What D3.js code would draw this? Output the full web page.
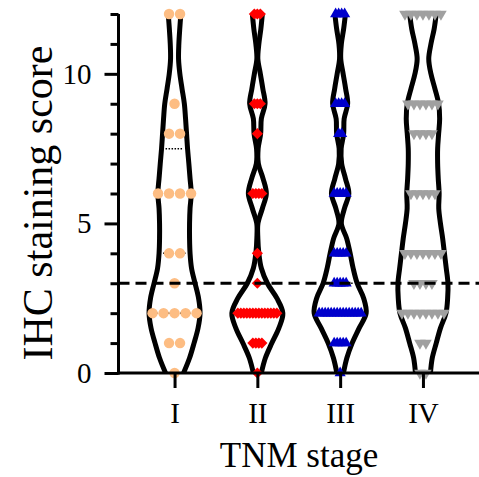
<!DOCTYPE html>
<html><head><meta charset="utf-8">
<script src="https://cdn.jsdelivr.net/npm/d3@7"></script>
<style>html,body{margin:0;padding:0;background:#fff;} svg{display:block;}</style>
</head><body>
<svg id="chart" width="479" height="477"></svg>
<script>
// ---- data ----
const categories = ["I", "II", "III", "IV"];
const scoreLevels = [0, 1, 2, 3, 4, 6, 8, 9, 12];
const countsI   = [1, 2, 5, 1, 2, 4, 2, 1, 2];
const countsII  = [1, 4, 14, 1, 1, 4, 1, 3, 3];
const countsIII = [1, 5, 15, 5, 5, 5, 2, 4, 4];
const countsIV  = [2, 2, 8, 4, 7, 5, 4, 6, 7];
const yMajorTicks = [0, 5, 10];
const yMinorTicks = [1, 2, 3, 4, 6, 7, 8, 9, 11, 12];
const cutoffScore = 3;
// violin density profile at these scores
const profileScores = [0,0.5,1,1.5,2,2.5,3,3.5,4,4.5,5,5.5,6,6.5,7,7.5,8,8.5,9,9.5,10,10.5,11,11.5,12];
const densityI   = [9,15,19.5,23.5,25.5,24,20.5,17,15.5,15,15,15.5,16.7,15.5,14.3,13,12,11,9.8,7.5,5.3,4.0,4.3,5.2,6.3];
const densityII  = [4,8,14.5,21.5,25.5,19.5,10,4,1.5,0.5,0.6,5,9,5.7,1,0.8,3.3,4,7.7,5.5,3,0.5,1.5,3.5,5];
const densityIII = [3.3,6.7,12,19,26,23.5,17,13,10,6.5,1.2,4.3,8.7,5.3,1.5,1,3.5,4,7.5,5.5,3,0.6,1.2,3.5,5.3];
const densityIV  = [7.5,9.3,13.3,17.5,23,24.7,25,23.3,21.5,19.7,17.5,15.8,16.2,15.3,14.7,14.7,15.7,16.7,15.7,12,8,5.8,8,11.2,13.3];

const groups = [
  {name: "I",   counts: countsI,   density: densityI,   symbol: d3.symbolCircle,   size: 86, rotate: 0,   color: "#fdbd83", spacing: 11},
  {name: "II",  counts: countsII,  density: densityII,  symbol: d3.symbolSquare,   size: 62, rotate: 45,  color: "#ff0000", spacing: 3},
  {name: "III", counts: countsIII, density: densityIII, symbol: d3.symbolTriangle, size: 54, rotate: 0,   color: "#0000cc", spacing: 3},
  {name: "IV",  counts: countsIV,  density: densityIV,  symbol: d3.symbolTriangle, size: 58, rotate: 180, color: "#a0a0a0", spacing: 6}
];

// ---- layout ----
const svg = d3.select("#chart");
const axisX0 = 118.5, axisX1 = 479, axisY0 = 373, axisYTop = 14;
const font = "'Liberation Serif','Times New Roman',serif";

const x = d3.scalePoint().domain(categories).range([axisX0, axisX1]).padding(0.677);
const y = d3.scaleLinear().domain([0, 12]).range([axisY0, axisYTop]);
const w = d3.scaleLinear().domain([0, 26]).range([0, 26]);

// Prism-style quartiles: position p*(n+1)
function quartile(sorted, p) {
  const n = sorted.length, pos = p * (n + 1);
  const lo = Math.floor(pos), frac = pos - lo;
  if (lo < 1) return sorted[0];
  if (lo >= n) return sorted[n - 1];
  return sorted[lo - 1] + frac * (sorted[lo] - sorted[lo - 1]);
}
function densityAt(g, v) {
  const i = d3.bisectLeft(profileScores, v);
  if (profileScores[i] === v) return g.density[i];
  const a = profileScores[i - 1], b = profileScores[i];
  return g.density[i - 1] + (v - a) / (b - a) * (g.density[i] - g.density[i - 1]);
}

const plot = svg.append("g");

// violins
groups.forEach(g => {
  const cx = x(g.name);
  const prof = profileScores.map((s, i) => ({s, d: g.density[i]}));
  [-1, 1].forEach(side => {
    plot.append("path")
      .datum(prof)
      .attr("fill", "none")
      .attr("stroke", "#000")
      .attr("stroke-width", 5)
      .attr("d", d3.line()
        .x(d => cx + side * w(d.d))
        .y(d => y(d.s))
        .curve(d3.curveCatmullRom.alpha(0.5)));
  });
  // quartile lines
  const values = [];
  scoreLevels.forEach((s, i) => { for (let k = 0; k < g.counts[i]; k++) values.push(s); });
  values.sort((a, b) => a - b);
  [0.25, 0.5, 0.75].forEach(p => {
    const q = quartile(values, p);
    const hw = Math.max(0, w(densityAt(g, q)) - 4);
    plot.append("line")
      .attr("x1", cx - hw).attr("x2", cx + hw)
      .attr("y1", y(q)).attr("y2", y(q))
      .attr("stroke", "#000").attr("stroke-width", 1.5)
      .attr("stroke-dasharray", "1.5,1.5");
  });
});

// points
groups.forEach(g => {
  const cx = x(g.name);
  const pts = [];
  scoreLevels.forEach((s, i) => {
    const n = g.counts[i];
    for (let k = 0; k < n; k++) pts.push({s, dx: (k - (n - 1) / 2) * g.spacing});
  });
  plot.append("g").selectAll("path").data(pts).join("path")
    .attr("d", d3.symbol().type(g.symbol).size(g.size))
    .attr("transform", d => `translate(${cx + d.dx},${y(d.s)}) rotate(${g.rotate})`)
    .attr("fill", g.color);
});

// cutoff line
svg.append("line")
  .attr("x1", axisX0).attr("x2", axisX1)
  .attr("y1", y(cutoffScore)).attr("y2", y(cutoffScore))
  .attr("stroke", "#000").attr("stroke-width", 3)
  .attr("stroke-dasharray", "11,6");

// axes
const yAxisMinor = svg.append("g").attr("transform", `translate(${axisX0},0)`)
  .call(d3.axisLeft(y).tickValues(yMinorTicks).tickSize(8).tickSizeOuter(0).tickFormat(""));
yAxisMinor.select(".domain").remove();
const yAxis = svg.append("g").attr("transform", `translate(${axisX0},0)`)
  .call(d3.axisLeft(y).tickValues(yMajorTicks).tickSize(14).tickSizeOuter(0).tickPadding(13));
const xAxis = svg.append("g").attr("transform", `translate(0,${axisY0})`)
  .call(d3.axisBottom(x).tickSize(15).tickSizeOuter(0).tickPadding(14));

[yAxisMinor, yAxis, xAxis].forEach(a => {
  a.selectAll("line").attr("stroke", "#000").attr("stroke-width", 3);
  a.selectAll(".domain").attr("stroke", "#000").attr("stroke-width", 3);
  a.selectAll("text").attr("font-family", font).attr("font-size", 29).attr("fill", "#000");
});
xAxis.select(".domain").attr("d", `M${axisX0 - 1.5},0H${axisX1}`);
yAxis.select(".domain").attr("d", `M0,${axisYTop}V${axisY0 + 1.5}`);

// titles
svg.append("text")
  .attr("x", 299).attr("y", 467)
  .attr("text-anchor", "middle")
  .attr("font-family", font).attr("font-size", 35)
  .text("TNM stage");
svg.append("text")
  .attr("transform", "translate(52,203) rotate(-90)")
  .attr("text-anchor", "middle")
  .attr("font-family", font).attr("font-size", 42)
  .text("IHC staining score");
</script>
</body></html>
